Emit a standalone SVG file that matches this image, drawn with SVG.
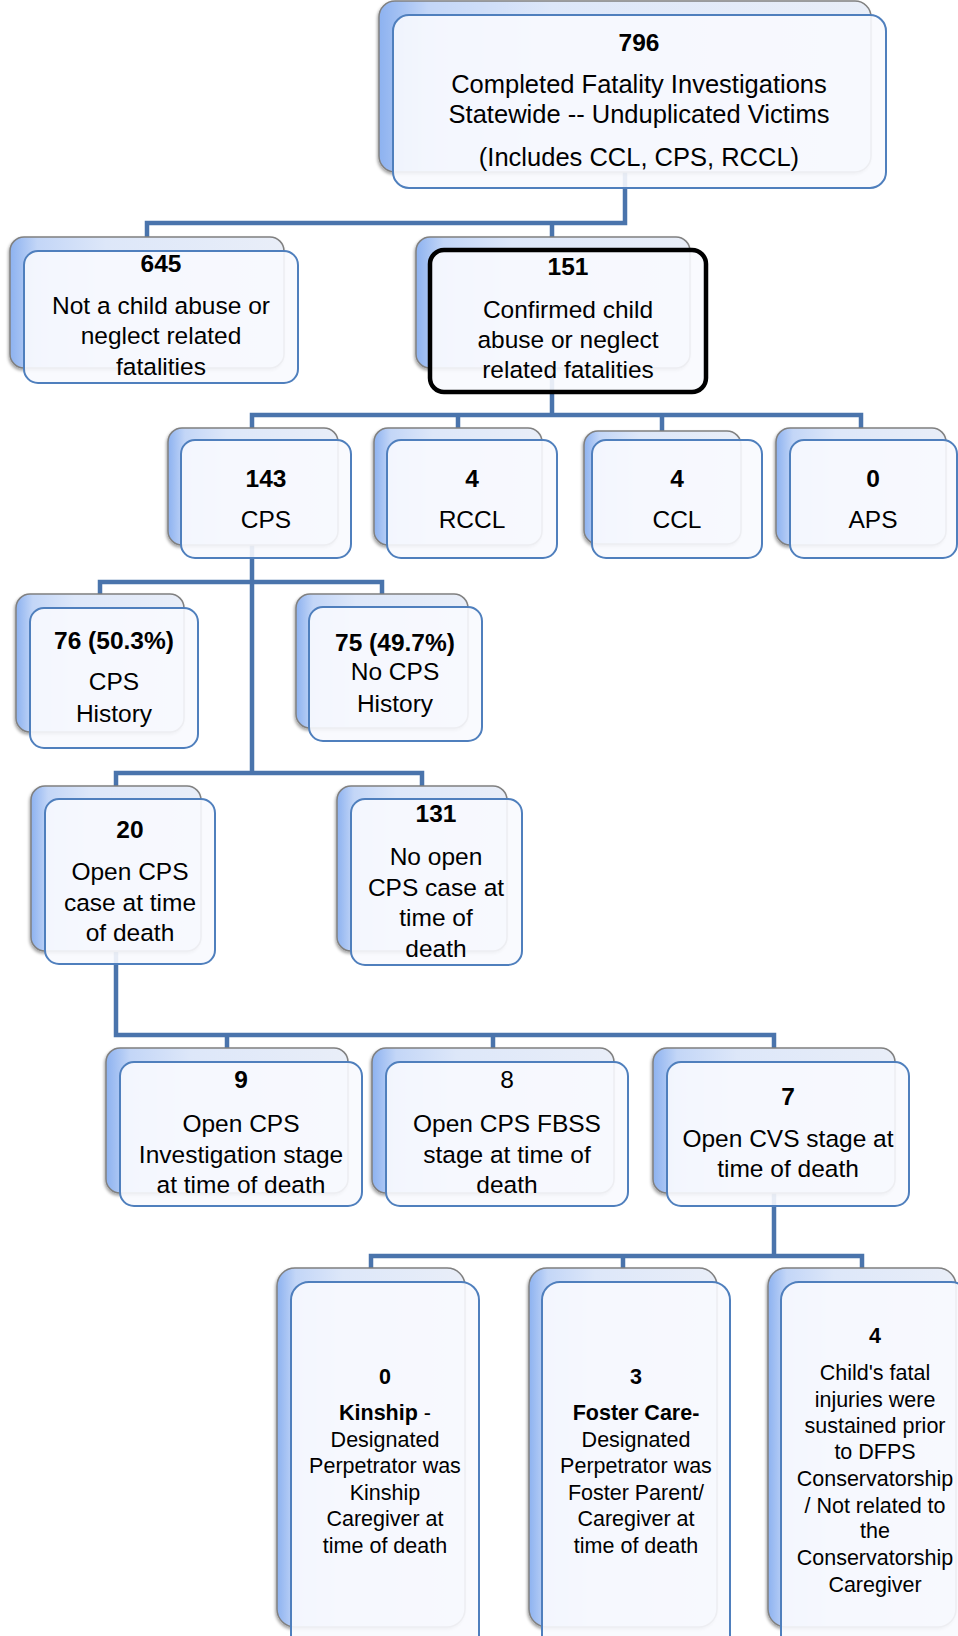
<svg xmlns="http://www.w3.org/2000/svg" width="958" height="1636" viewBox="0 0 958 1636">
<defs>
<linearGradient id="backGrad" x1="0" y1="0" x2="1" y2="0">
<stop offset="0" stop-color="#8db2f0"/>
<stop offset="0.1" stop-color="#c3d6f7"/>
<stop offset="0.35" stop-color="#dde7f9"/>
<stop offset="1" stop-color="#e9eef8"/>
</linearGradient>
<filter id="sh" x="-10%" y="-10%" width="120%" height="120%">
<feDropShadow dx="-1" dy="2" stdDeviation="1.5" flood-color="#000" flood-opacity="0.35"/>
</filter>
</defs>
<style>
.back{fill:url(#backGrad);stroke:#808080;stroke-width:1.5;filter:url(#sh)}
.front{fill:#f8fafe;fill-opacity:0.9;stroke:#4f7fbd;stroke-width:2}
.hl{fill:#f8fafe;fill-opacity:0.9;stroke:#000;stroke-width:4.5}
.conn{fill:none;stroke:#4a74ac;stroke-width:4.5;stroke-linejoin:miter}
text{font-family:"Liberation Sans",Arial,sans-serif;fill:#000;text-anchor:middle}
.t{font-size:24.5px}
.b{font-size:24.5px;font-weight:bold}
.ts{font-size:21.5px}
.bs{font-size:21.5px;font-weight:bold}
</style>
<rect width="958" height="1636" fill="#ffffff"/>
<g id="connectors">
<path class="conn" d="M147,238 V223 H625 V172 M552,223 V238"/>
<path class="conn" d="M552,367 V415 M252,428 V415 H861 V428 M458,415 V428 M662,415 V431"/>
<path class="conn" d="M252,545 V773 M100,594 V582 H382 V594 M116,786 V773 H422 V786"/>
<path class="conn" d="M116,952 V1035 H774 V1048 M227,1035 V1048 M493,1035 V1048"/>
<path class="conn" d="M774,1193 V1256 M371,1268 V1256 H862 V1268 M623,1256 V1268"/>
</g>
<g id="n796">
<rect class="back" x="379" y="1" width="492" height="171" rx="16"/>
<rect class="front" x="393" y="15" width="493" height="173" rx="16"/>
<text class="b" x="639" y="51">796</text>
<text class="t" x="639" y="93" style="font-size:25.5px">Completed Fatality Investigations</text>
<text class="t" x="639" y="123" style="font-size:25.5px">Statewide -- Unduplicated Victims</text>
<text class="t" x="639" y="166" style="font-size:25.5px">(Includes CCL, CPS, RCCL)</text>
</g>
<g id="n645">
<rect class="back" x="10" y="237" width="274" height="131" rx="14"/>
<rect class="front" x="24" y="251" width="274" height="132" rx="14"/>
<text class="b" x="161" y="272">645</text>
<text class="t" x="161" y="314">Not a child abuse or</text>
<text class="t" x="161" y="344">neglect related</text>
<text class="t" x="161" y="375">fatalities</text>
</g>
<g id="n151">
<rect class="back" x="416" y="237" width="274" height="131" rx="14"/>
<rect class="hl" x="430" y="250" width="276" height="142" rx="14"/>
<text class="b" x="568" y="275">151</text>
<text class="t" x="568" y="318">Confirmed child</text>
<text class="t" x="568" y="348">abuse or neglect</text>
<text class="t" x="568" y="378">related fatalities</text>
</g>
<g id="n143">
<rect class="back" x="168" y="428" width="170" height="117" rx="14"/>
<rect class="front" x="181" y="440" width="170" height="118" rx="14"/>
<text class="b" x="266" y="487">143</text>
<text class="t" x="266" y="528">CPS</text>
</g>
<g id="nRCCL">
<rect class="back" x="374" y="428" width="168" height="117" rx="14"/>
<rect class="front" x="387" y="440" width="170" height="118" rx="14"/>
<text class="b" x="472" y="487">4</text>
<text class="t" x="472" y="528">RCCL</text>
</g>
<g id="nCCL">
<rect class="back" x="584" y="431" width="157" height="113" rx="14"/>
<rect class="front" x="592" y="440" width="170" height="118" rx="14"/>
<text class="b" x="677" y="487">4</text>
<text class="t" x="677" y="528">CCL</text>
</g>
<g id="nAPS">
<rect class="back" x="776" y="428" width="170" height="117" rx="14"/>
<rect class="front" x="790" y="440" width="167" height="118" rx="14"/>
<text class="b" x="873" y="487">0</text>
<text class="t" x="873" y="528">APS</text>
</g>
<g id="n76">
<rect class="back" x="16" y="594" width="168" height="138" rx="14"/>
<rect class="front" x="30" y="608" width="168" height="140" rx="14"/>
<text class="b" x="114" y="649">76 (50.3%)</text>
<text class="t" x="114" y="690">CPS</text>
<text class="t" x="114" y="722">History</text>
</g>
<g id="n75">
<rect class="back" x="296" y="594" width="172" height="134" rx="14"/>
<rect class="front" x="309" y="607" width="173" height="134" rx="14"/>
<text class="b" x="395" y="651">75 (49.7%)</text>
<text class="t" x="395" y="680">No CPS</text>
<text class="t" x="395" y="712">History</text>
</g>
<g id="n20">
<rect class="back" x="31" y="786" width="170" height="165" rx="14"/>
<rect class="front" x="45" y="799" width="170" height="165" rx="14"/>
<text class="b" x="130" y="838">20</text>
<text class="t" x="130" y="880">Open CPS</text>
<text class="t" x="130" y="911">case at time</text>
<text class="t" x="130" y="941">of death</text>
</g>
<g id="n131">
<rect class="back" x="337" y="786" width="170" height="165" rx="14"/>
<rect class="front" x="351" y="799" width="171" height="166" rx="14"/>
<text class="b" x="436" y="822">131</text>
<text class="t" x="436" y="865">No open</text>
<text class="t" x="436" y="896">CPS case at</text>
<text class="t" x="436" y="926">time of</text>
<text class="t" x="436" y="957">death</text>
</g>
<g id="n9">
<rect class="back" x="106" y="1048" width="242" height="145" rx="14"/>
<rect class="front" x="120" y="1062" width="242" height="144" rx="14"/>
<text class="b" x="241" y="1088">9</text>
<text class="t" x="241" y="1132">Open CPS</text>
<text class="t" x="241" y="1163">Investigation stage</text>
<text class="t" x="241" y="1193">at time of death</text>
</g>
<g id="n8">
<rect class="back" x="372" y="1048" width="242" height="145" rx="14"/>
<rect class="front" x="386" y="1062" width="242" height="144" rx="14"/>
<text class="t" x="507" y="1088">8</text>
<text class="t" x="507" y="1132">Open CPS FBSS</text>
<text class="t" x="507" y="1163">stage at time of</text>
<text class="t" x="507" y="1193">death</text>
</g>
<g id="n7">
<rect class="back" x="653" y="1048" width="242" height="145" rx="14"/>
<rect class="front" x="667" y="1062" width="242" height="144" rx="14"/>
<text class="b" x="788" y="1105">7</text>
<text class="t" x="788" y="1147">Open CVS stage at</text>
<text class="t" x="788" y="1177">time of death</text>
</g>
<g id="nKinship">
<rect class="back" x="277" y="1268" width="188" height="359" rx="18"/>
<rect class="front" x="291" y="1282" width="188" height="380" rx="18"/>
<text class="bs" x="385" y="1384">0</text>
<text class="ts" x="385" y="1420"><tspan font-weight="bold">Kinship</tspan> -</text>
<text class="ts" x="385" y="1447">Designated</text>
<text class="ts" x="385" y="1473">Perpetrator was</text>
<text class="ts" x="385" y="1500">Kinship</text>
<text class="ts" x="385" y="1526">Caregiver at</text>
<text class="ts" x="385" y="1553">time of death</text>
</g>
<g id="nFoster">
<rect class="back" x="529" y="1268" width="188" height="359" rx="18"/>
<rect class="front" x="542" y="1282" width="188" height="380" rx="18"/>
<text class="bs" x="636" y="1384">3</text>
<text class="bs" x="636" y="1420">Foster Care-</text>
<text class="ts" x="636" y="1447">Designated</text>
<text class="ts" x="636" y="1473">Perpetrator was</text>
<text class="ts" x="636" y="1500">Foster Parent/</text>
<text class="ts" x="636" y="1526">Caregiver at</text>
<text class="ts" x="636" y="1553">time of death</text>
</g>
<g id="nPrior">
<rect class="back" x="768" y="1268" width="188" height="359" rx="18"/>
<rect class="front" x="781" y="1282" width="188" height="380" rx="18"/>
<text class="bs" x="875" y="1343">4</text>
<text class="ts" x="875" y="1380">Child's fatal</text>
<text class="ts" x="875" y="1407">injuries were</text>
<text class="ts" x="875" y="1433">sustained prior</text>
<text class="ts" x="875" y="1459">to DFPS</text>
<text class="ts" x="875" y="1486">Conservatorship</text>
<text class="ts" x="875" y="1513">/ Not related to</text>
<text class="ts" x="875" y="1538">the</text>
<text class="ts" x="875" y="1565">Conservatorship</text>
<text class="ts" x="875" y="1592">Caregiver</text>
</g>
</svg>
